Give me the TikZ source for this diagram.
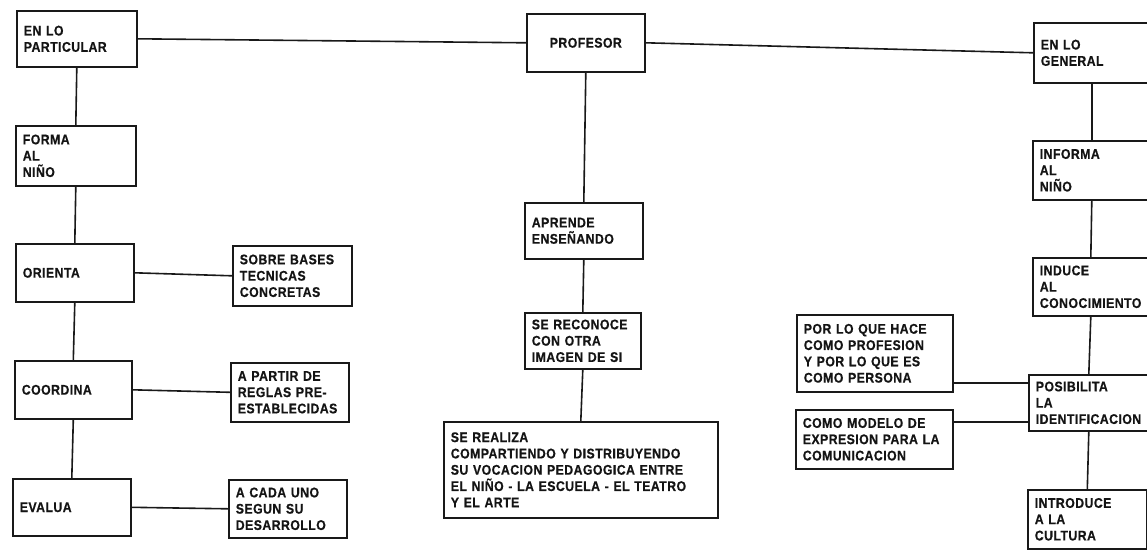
\documentclass[tikz,border=0pt]{standalone}
\usepackage{fontspec}
\setmainfont{Liberation Sans}[FakeStretch=0.88, LetterSpace=3, BoldFeatures={FakeBold=0.5}]
\begin{document}
\begin{tikzpicture}[x=1pt,y=-1pt,
  ink/.style={draw=black!90, line width=1.6pt},
  box/.style={ink, rectangle, anchor=north west, inner xsep=7pt, inner ysep=2pt,
    align=left, font=\bfseries\fontsize{14}{16.3}\selectfont, text=black!92},
  link/.style={ink}]
\useasboundingbox (0,0) rectangle (1147,549);
\clip (0,0) rectangle (1147,549);

% left branch
\node[box, text width=106pt, minimum height=56pt] (part) at (16,10) {EN LO\\PARTICULAR};
\node[box, text width=106pt, minimum height=60pt] (forma) at (15,125) {FORMA\\AL\\NIÑO};
\node[box, text width=104pt, minimum height=58pt] (orienta) at (15,243) {ORIENTA};
\node[box, text width=105pt, minimum height=60pt] (sobre) at (232,245) {SOBRE BASES\\TECNICAS\\CONCRETAS};
\node[box, text width=103pt, minimum height=58pt] (coordina) at (14,360) {COORDINA};
\node[box, text width=104pt, minimum height=59pt] (apartir) at (230,362) {A PARTIR DE\\REGLAS PRE-\\ESTABLECIDAS};
\node[box, text width=104pt, minimum height=57pt] (evalua) at (12,478) {EVALUA};
\node[box, text width=104pt, minimum height=58pt] (acada) at (228,479) {A CADA UNO\\SEGUN SU\\DESARROLLO};

% centre branch
\node[box, text width=104pt, minimum height=58pt, align=center] (profesor) at (526,13) {PROFESOR};
\node[box, text width=104pt, minimum height=56pt] (aprende) at (524,202) {APRENDE\\ENSEÑANDO};
\node[box, text width=102pt, minimum height=56pt] (reconoce) at (524,312) {SE RECONOCE\\CON OTRA\\IMAGEN DE SI};
\node[box, text width=260pt, minimum height=96pt] (realiza) at (443,421)
  {SE REALIZA\\COMPARTIENDO Y DISTRIBUYENDO\\SU VOCACION PEDAGOGICA ENTRE\\EL NIÑO - LA ESCUELA - EL TEATRO\\Y EL ARTE};

% right branch
\node[box, text width=102pt, minimum height=60pt] (general) at (1033,22) {EN LO\\GENERAL};
\node[box, text width=104pt, minimum height=59pt] (informa) at (1032,140) {INFORMA\\AL\\NIÑO};
\node[box, text width=102pt, minimum height=58pt] (induce) at (1032,257) {INDUCE\\AL\\CONOCIMIENTO};
\node[box, text width=106pt, minimum height=56pt] (posibilita) at (1028,374) {POSIBILITA\\LA\\IDENTIFICACION};
\node[box, text width=142pt, minimum height=77pt] (porlo) at (796,314) {POR LO QUE HACE\\COMO PROFESION\\Y POR LO QUE ES\\COMO PERSONA};
\node[box, text width=143pt, minimum height=59pt] (modelo) at (795,409) {COMO MODELO DE\\EXPRESION PARA LA\\COMUNICACION};
\node[box, text width=105pt, minimum height=59pt] (introduce) at (1027,489) {INTRODUCE\\A LA\\CULTURA};

% connectors
\draw[link] (part.east) -- (profesor.west);
\draw[link] (profesor.east) -- (general.west);

\draw[link] (part.south) -- (forma.north);
\draw[link] (forma.south) -- (orienta.north);
\draw[link] (orienta.south) -- (coordina.north);
\draw[link] (coordina.south) -- (evalua.north);
\draw[link] (orienta.east) -- (sobre.west);
\draw[link] (coordina.east) -- (apartir.west);
\draw[link] (evalua.east) -- (acada.west);

\draw[link] (profesor.south) -- (aprende.north);
\draw[link] (aprende.south) -- (reconoce.north);
\draw[link] (reconoce.south) -- (realiza.north);

\draw[link] (general.south) -- (informa.north);
\draw[link] (informa.south) -- (induce.north);
\draw[link] (induce.south) -- (posibilita.north);
\draw[link] (posibilita.south) -- (introduce.north);
\draw[link] ([yshift=20pt]posibilita.west) -- ([yshift=20pt]posibilita.west -| porlo.east);
\draw[link] ([yshift=-19pt]posibilita.west) -- ([yshift=-19pt]posibilita.west -| modelo.east);
\end{tikzpicture}
\end{document}
